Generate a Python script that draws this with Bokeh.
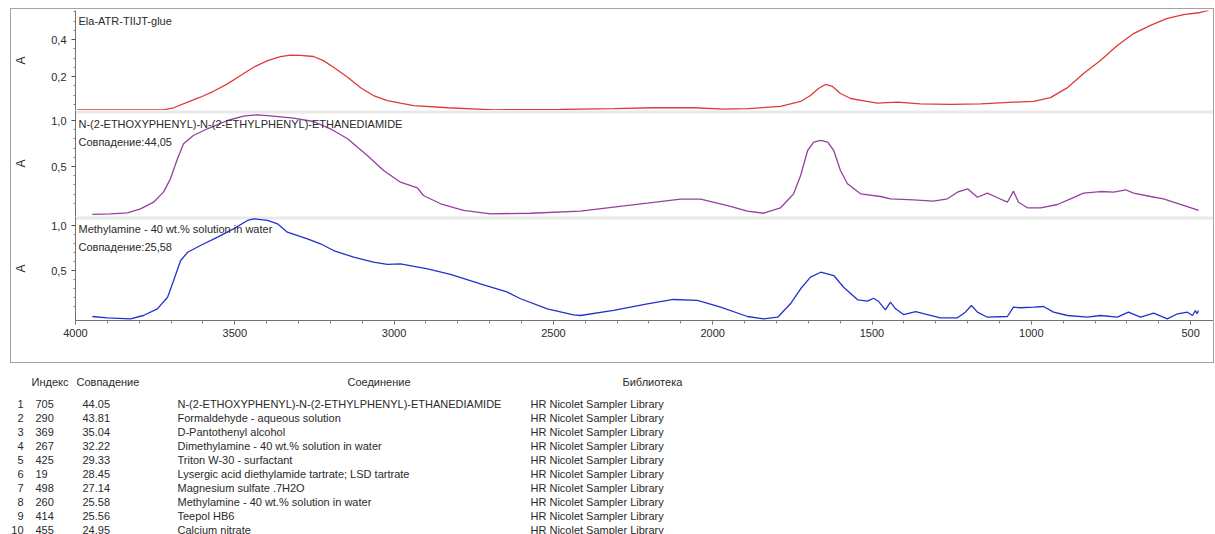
from bokeh.plotting import figure
from bokeh.models import Range1d, FixedTicker, CustomJSTickFormatter, Span, Label, ColumnDataSource
from bokeh.layouts import column
from bokeh.core.properties import value
from bokeh.embed import file_html
from bokeh.resources import INLINE

FONT = "Liberation Sans"
TEXT = "#2a2a2a"

# ---------------------------------------------------------------- spectra
sample_name = "Ela-ATR-TIIJT-glue"
sample_wn = [3994, 3900, 3800, 3724, 3692, 3648, 3608, 3567, 3523, 3482, 3441, 3397,
             3357, 3325, 3294, 3253, 3222, 3190, 3146, 3105, 3065, 3021, 2980, 2939,
             2832, 2688, 2478, 2311, 2186, 2060, 1966, 1891, 1787, 1724, 1693, 1668,
             1646, 1624, 1599, 1567, 1530, 1483, 1420, 1348, 1254, 1159, 1056, 993,
             940, 886, 836, 783, 730, 679, 626, 573, 522, 469, 444]
sample_a = [0.020, 0.020, 0.020, 0.020, 0.031, 0.061, 0.088, 0.120, 0.160, 0.205, 0.250, 0.286,
            0.308, 0.315, 0.314, 0.308, 0.286, 0.250, 0.196, 0.139, 0.097, 0.070, 0.056, 0.043,
            0.031, 0.020, 0.022, 0.026, 0.031, 0.031, 0.024, 0.026, 0.038, 0.065, 0.097, 0.135,
            0.157, 0.146, 0.108, 0.081, 0.070, 0.056, 0.061, 0.052, 0.049, 0.052, 0.061, 0.065,
            0.086, 0.140, 0.216, 0.286, 0.368, 0.432, 0.476, 0.514, 0.535, 0.546, 0.557]

# best library hit (rank 1)
hit1_wn = [3947, 3890, 3837, 3796, 3755, 3724, 3702, 3680, 3661, 3630, 3586, 3523,
           3473, 3429, 3379, 3316, 3253, 3200, 3146, 3084, 3033, 2980, 2927, 2908,
           2854, 2782, 2697, 2572, 2415, 2311, 2205, 2101, 2038, 1953, 1891, 1840,
           1787, 1756, 1746, 1724, 1702, 1683, 1661, 1639, 1620, 1599, 1577, 1536,
           1473, 1442, 1370, 1307, 1263, 1232, 1200, 1169, 1138, 1106, 1075, 1056,
           1040, 1012, 971, 918, 877, 836, 783, 742, 704, 679, 626, 585, 554, 510, 475]
hit1_a = [-0.020, -0.014, -0.003, 0.040, 0.112, 0.221, 0.366, 0.584, 0.747, 0.837, 0.910, 1.000,
          1.047, 1.062, 1.047, 1.025, 0.989, 0.910, 0.801, 0.620, 0.457, 0.329, 0.268, 0.185,
          0.095, 0.022, -0.014, -0.008, 0.014, 0.058, 0.101, 0.145, 0.145, 0.076, 0.014, -0.008,
          0.051, 0.166, 0.203, 0.402, 0.674, 0.764, 0.783, 0.764, 0.674, 0.457, 0.312, 0.203,
          0.174, 0.149, 0.138, 0.123, 0.149, 0.221, 0.258, 0.166, 0.210, 0.160, 0.112, 0.232,
          0.112, 0.051, 0.051, 0.087, 0.149, 0.210, 0.228, 0.221, 0.247, 0.210, 0.174, 0.149,
          0.112, 0.065, 0.022]

# library hit rank 8
hit8_wn = [3947, 3900, 3827, 3787, 3743, 3711, 3692, 3670, 3648, 3608, 3554, 3504,
           3460, 3441, 3397, 3366, 3335, 3272, 3231, 3190, 3127, 3065, 3021, 2980,
           2895, 2823, 2729, 2644, 2603, 2519, 2437, 2415, 2311, 2205, 2123, 2048,
           1975, 1891, 1840, 1796, 1756, 1724, 1693, 1661, 1620, 1589, 1545, 1514,
           1495, 1480, 1458, 1442, 1426, 1401, 1363, 1326, 1285, 1232, 1207, 1188,
           1169, 1138, 1075, 1056, 1034, 993, 962, 930, 886, 824, 783, 730, 695,
           657, 616, 573, 541, 510, 494, 485, 480, 475]
hit8_a = [-0.011, -0.026, -0.037, 0.000, 0.074, 0.203, 0.389, 0.611, 0.703, 0.778, 0.870, 0.963,
          1.056, 1.074, 1.056, 1.019, 0.926, 0.852, 0.797, 0.722, 0.648, 0.592, 0.567, 0.574,
          0.519, 0.456, 0.352, 0.259, 0.186, 0.074, 0.008, 0.000, 0.056, 0.130, 0.178, 0.167,
          0.092, -0.011, -0.037, -0.019, 0.130, 0.297, 0.426, 0.481, 0.444, 0.314, 0.174, 0.159,
          0.192, 0.159, 0.063, 0.148, 0.074, 0.011, 0.044, 0.011, -0.026, -0.026, 0.037, 0.111,
          0.037, -0.019, -0.011, 0.092, 0.086, 0.092, 0.100, 0.037, 0.000, -0.019, 0.000, -0.019, 0.037,
          -0.019, 0.026, -0.037, 0.019, 0.037, 0.000, 0.056, 0.020, 0.056]

# ---------------------------------------------------------- search results
rank = [1, 2, 3, 4, 5, 6, 7, 8, 9, 10]
lib_index = [705, 290, 369, 267, 425, 19, 498, 260, 414, 455]
match = [44.05, 43.81, 35.04, 32.22, 29.33, 28.45, 27.14, 25.58, 25.56, 24.95]
compound = ["N-(2-ETHOXYPHENYL)-N-(2-ETHYLPHENYL)-ETHANEDIAMIDE",
            "Formaldehyde - aqueous solution",
            "D-Pantothenyl alcohol",
            "Dimethylamine - 40 wt.% solution in water",
            "Triton W-30 - surfactant",
            "Lysergic acid diethylamide tartrate; LSD tartrate",
            "Magnesium sulfate .7H2O",
            "Methylamine - 40 wt.% solution in water",
            "Teepol HB6",
            "Calcium nitrate"]
library = ["HR Nicolet Sampler Library"] * 10
headers = ["Индекс", "Совпадение", "Соединение", "Библиотека"]

x_ticks = [4000, 3500, 3000, 2500, 2000, 1500, 1000, 500]
x_minor = [w for w in range(500, 4001, 100)]

# ------------------------------------------------------------------ layout
FIG_W = 1202
LEFT = 64
FRAME_W = FIG_W - LEFT
PX_PER_WN = 0.3186
x_range = Range1d(4000, 4000 - FRAME_W / PX_PER_WN)
LABEL_X = 4000 - 3 / PX_PER_WN


def comma(v):
    return f"{v:.2f}".replace(".", ",")


def panel(wn, a, color, ticks, minor, ref_val, ref_px, px_per_unit, frame_h,
          top_border, bottom_border, labels, x_axis=False, separator=False):
    top = ref_val + ref_px / px_per_unit
    bottom = top - frame_h / px_per_unit
    p = figure(width=FIG_W, height=frame_h + top_border + bottom_border,
               x_range=x_range, y_range=Range1d(bottom, top),
               x_axis_location="below" if x_axis else None,
               output_backend="svg", toolbar_location=None,
               min_border_left=LEFT, min_border_right=0,
               min_border_top=top_border, min_border_bottom=bottom_border)
    p.outline_line_color = None
    p.grid.visible = False
    p.border_fill_color = "white"

    if separator:
        p.add_layout(Span(location=top, dimension="width", line_color="#e9e9e9",
                          line_width=6, level="underlay"))

    p.line(wn, a, line_color=color, line_width=1.3)

    ax = p.yaxis[0]
    ax.ticker = FixedTicker(ticks=ticks, minor_ticks=minor)
    ax.formatter = CustomJSTickFormatter(code="return tick.toFixed(1).replace('.', ',');")
    ax.axis_label = "A"
    ax.axis_label_text_font = FONT
    ax.axis_label_text_font_size = "12px"
    ax.axis_label_text_font_style = "normal"
    ax.axis_label_text_color = TEXT
    ax.axis_label_standoff = 20
    ax.major_label_text_font = FONT
    ax.major_label_text_font_size = "11px"
    ax.major_label_text_color = TEXT
    ax.major_label_standoff = 5
    ax.axis_line_color = "#707070"
    ax.major_tick_line_color = "#505050"
    ax.minor_tick_line_color = "#808080"
    ax.major_tick_out = 4
    ax.major_tick_in = 0
    ax.minor_tick_out = 2
    ax.minor_tick_in = 0

    if x_axis:
        xa = p.xaxis[0]
        xa.ticker = FixedTicker(ticks=x_ticks, minor_ticks=x_minor)
        xa.major_label_text_font = FONT
        xa.major_label_text_font_size = "11px"
        xa.major_label_text_color = TEXT
        xa.major_label_standoff = 4
        xa.axis_line_color = "#707070"
        xa.major_tick_line_color = "#505050"
        xa.minor_tick_line_color = "#808080"
        xa.major_tick_out = 4
        xa.major_tick_in = 0
        xa.minor_tick_out = 3
        xa.minor_tick_in = 0

    for text, off in labels:
        p.add_layout(Label(x=LABEL_X, y=top - off / px_per_unit, text=text,
                           text_font=FONT, text_font_size="11px", text_color=TEXT,
                           text_baseline="middle", text_align="left"))
    return p


p1 = panel(sample_wn, sample_a, "#e0393a", [0.2, 0.4],
           [0.05, 0.1, 0.15, 0.25, 0.3, 0.35, 0.45, 0.5, 0.55],
           0.4, 29, 185, 100, 1, 0, [(sample_name, 10)])
p2 = panel(hit1_wn, hit1_a, "#9540a0", [0.5, 1.0],
           [0.1, 0.2, 0.3, 0.4, 0.6, 0.7, 0.8, 0.9],
           1.0, 10, 92, 106, 0, 0,
           [(compound[0], 13), ("Совпадение:" + comma(match[0]), 31)], separator=True)
p3 = panel(hit8_wn, hit8_a, "#2331cc", [0.5, 1.0],
           [0.1, 0.2, 0.3, 0.4, 0.6, 0.7, 0.8, 0.9],
           1.0, 9, 90, 104, 0, 42,
           [(compound[7], 12), ("Совпадение:" + comma(match[7]), 30)],
           x_axis=True, separator=True)

charts = column(p1, p2, p3, margin=(8, 0, 0, 10),
                styles={"border": "1px solid #a3a3a3"})

# ------------------------------------------------------------------- table
ROW_PX = 14
TABLE_H = 171
FIRST_ROW_PX = 40
row_top = 1 - FIRST_ROW_PX / ROW_PX
tbl = figure(width=1215, height=TABLE_H, x_range=Range1d(0, 1215),
             y_range=Range1d(row_top + TABLE_H / ROW_PX, row_top),
             x_axis_location=None, y_axis_location=None,
             output_backend="svg", toolbar_location=None, min_border=0)
tbl.outline_line_color = None
tbl.grid.visible = False

header_y = 1 - 22 / ROW_PX
columns = [
    (23, "right", [str(r) for r in rank]),
    (35, "left", [str(i) for i in lib_index]),
    (82, "left", [f"{m:.2f}" for m in match]),
    (177, "left", compound),
    (530, "left", library),
]
for cx, align, texts in columns:
    src = ColumnDataSource(dict(x=[cx] * len(rank), y=rank, t=texts))
    tbl.text(x="x", y="y", text="t", source=src, text_align=align,
             text_baseline="middle", text_font=value(FONT),
             text_font_size="11px", text_color=TEXT)

hsrc = ColumnDataSource(dict(x=[31, 76, 347, 622], y=[header_y] * 4, t=headers))
tbl.text(x="x", y="y", text="t", source=hsrc, text_align="left",
         text_baseline="middle", text_font=value(FONT),
         text_font_size="11px", text_color=TEXT)

page = column(charts, tbl)
open("out.html", "w").write(file_html(page, INLINE))
